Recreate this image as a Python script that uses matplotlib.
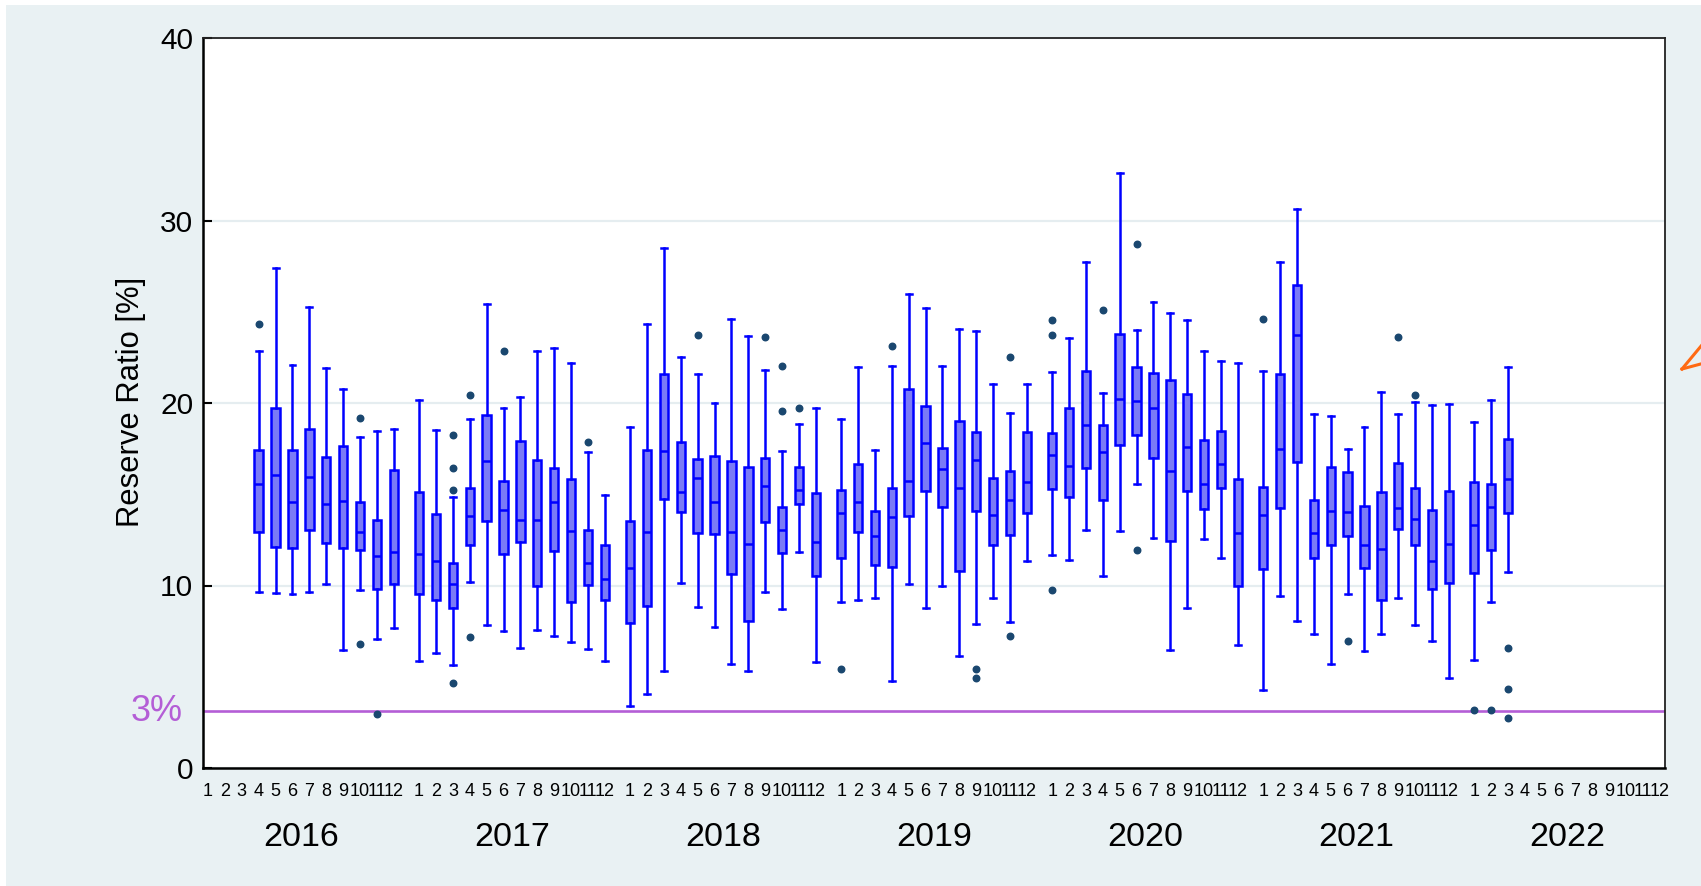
import matplotlib
matplotlib.use("Agg")
import matplotlib.pyplot as plt
from matplotlib.lines import Line2D
from matplotlib.patches import Rectangle

plt.rcParams['font.family'] = ['Liberation Sans', 'DejaVu Sans']

# --- data: monthly reserve ratio boxes ---
years = [2016, 2017, 2018, 2019, 2020, 2021, 2022]
month_labels = ['1', '2', '3', '4', '5', '6', '7', '8', '9', '10', '11', '12']

periods = [
    "2016-04", "2016-05", "2016-06", "2016-07", "2016-08", "2016-09", "2016-10", "2016-11", "2016-12",
    "2017-01", "2017-02", "2017-03", "2017-04", "2017-05", "2017-06", "2017-07", "2017-08", "2017-09", "2017-10", "2017-11", "2017-12",
    "2018-01", "2018-02", "2018-03", "2018-04", "2018-05", "2018-06", "2018-07", "2018-08", "2018-09", "2018-10", "2018-11", "2018-12",
    "2019-01", "2019-02", "2019-03", "2019-04", "2019-05", "2019-06", "2019-07", "2019-08", "2019-09", "2019-10", "2019-11", "2019-12",
    "2020-01", "2020-02", "2020-03", "2020-04", "2020-05", "2020-06", "2020-07", "2020-08", "2020-09", "2020-10", "2020-11", "2020-12",
    "2021-01", "2021-02", "2021-03", "2021-04", "2021-05", "2021-06", "2021-07", "2021-08", "2021-09", "2021-10", "2021-11", "2021-12",
    "2022-01", "2022-02", "2022-03",
]

whis_hi = [
    22.85, 27.4, 22.1, 25.25, 21.9, 20.75, 18.15, 18.45, 18.6,
    20.15, 18.5, 14.85, 19.1, 25.4, 19.7, 20.35, 22.85, 23.0, 22.2, 17.3, 14.95,
    18.7, 24.35, 28.5, 22.5, 21.6, 20.0, 24.6, 23.65, 21.8, 17.35, 18.85, 19.75,
    19.15, 21.95, 17.4, 22.05, 26.0, 25.2, 22.05, 24.05, 23.95, 21.05, 19.45, 21.05,
    21.7, 23.55, 27.75, 20.55, 32.6, 24.0, 25.55, 24.95, 24.55, 22.85, 22.3, 22.2,
    21.75, 27.75, 30.65, 19.4, 19.3, 17.5, 18.7, 20.6, 19.4, 20.05, 19.9, 19.95,
    18.95, 20.15, 22.0,
]
q3 = [
    17.45, 19.75, 17.45, 18.55, 17.05, 17.65, 14.55, 13.6, 16.35,
    15.15, 13.9, 11.25, 15.35, 19.35, 15.7, 17.9, 16.85, 16.45, 15.85, 13.05, 12.2,
    13.55, 17.4, 21.6, 17.85, 16.95, 17.1, 16.8, 16.5, 17.0, 14.3, 16.5, 15.05,
    15.25, 16.65, 14.1, 15.35, 20.75, 19.85, 17.55, 19.0, 18.4, 15.9, 16.25, 18.4,
    18.35, 19.7, 21.75, 18.8, 23.8, 21.95, 21.65, 21.25, 20.5, 17.95, 18.45, 15.85,
    15.4, 21.6, 26.45, 14.7, 16.5, 16.2, 14.35, 15.1, 16.7, 15.35, 14.15, 15.2,
    15.65, 15.55, 18.05,
]
med = [
    15.55, 16.05, 14.55, 15.95, 14.45, 14.65, 12.95, 11.6, 11.85,
    11.7, 11.35, 10.1, 13.8, 16.8, 14.15, 13.6, 13.6, 14.55, 13.0, 11.25, 10.35,
    10.95, 12.95, 17.35, 15.15, 15.9, 14.6, 12.95, 12.3, 15.45, 13.05, 15.25, 12.4,
    13.95, 14.55, 12.7, 13.75, 15.7, 17.8, 16.4, 15.35, 16.85, 13.85, 14.7, 15.65,
    17.15, 16.55, 18.8, 17.3, 20.2, 20.1, 19.7, 16.25, 17.6, 15.55, 16.65, 12.85,
    13.85, 17.5, 23.75, 12.85, 14.1, 14.05, 12.2, 12.0, 14.25, 13.65, 11.35, 12.3,
    13.3, 14.3, 15.85,
]
q1 = [
    12.95, 12.1, 12.05, 13.05, 12.35, 12.05, 11.95, 9.8, 10.1,
    9.55, 9.2, 8.75, 12.2, 13.55, 11.75, 12.4, 9.95, 11.9, 9.1, 10.05, 9.2,
    7.95, 8.85, 14.75, 14.05, 12.9, 12.8, 10.65, 8.05, 13.5, 11.8, 14.45, 10.5,
    11.5, 12.95, 11.1, 11.0, 13.8, 15.2, 14.3, 10.8, 14.1, 12.2, 12.75, 14.0,
    15.3, 14.85, 16.45, 14.7, 17.7, 18.25, 17.0, 12.45, 15.2, 14.2, 15.35, 10.0,
    10.9, 14.25, 16.75, 11.5, 12.2, 12.7, 10.95, 9.2, 13.1, 12.2, 9.8, 10.15,
    10.7, 11.95, 13.95,
]
whis_lo = [
    9.65, 9.6, 9.55, 9.65, 10.1, 6.45, 9.75, 7.05, 7.65,
    5.85, 6.3, 5.65, 10.2, 7.85, 7.5, 6.6, 7.55, 7.25, 6.9, 6.5, 5.85,
    3.4, 4.05, 5.3, 10.15, 8.8, 7.75, 5.7, 5.3, 9.65, 8.7, 11.85, 5.8,
    9.1, 9.2, 9.3, 4.75, 10.1, 8.75, 10.0, 6.15, 7.9, 9.3, 8.0, 11.35,
    11.65, 11.4, 13.05, 10.5, 13.0, 15.55, 12.6, 6.45, 8.75, 12.55, 11.5, 6.75,
    4.3, 9.45, 8.05, 7.35, 5.7, 9.55, 6.4, 7.35, 9.3, 7.85, 6.95, 4.95,
    5.9, 9.1, 10.75,
]
outliers = {
    "2016-04": [24.35], "2016-10": [19.2, 6.8], "2016-11": [2.95],
    "2017-03": [18.25, 16.45, 15.25, 4.65], "2017-04": [20.45, 7.2], "2017-06": [22.85], "2017-11": [17.85],
    "2018-05": [23.75], "2018-09": [23.6], "2018-10": [22.05, 19.55], "2018-11": [19.75],
    "2019-01": [5.45], "2019-04": [23.15], "2019-09": [5.45, 4.95], "2019-11": [22.5, 7.25],
    "2020-01": [24.55, 23.7, 9.75], "2020-04": [25.1], "2020-06": [28.7, 11.95],
    "2021-01": [24.6], "2021-06": [6.95], "2021-09": [23.6], "2021-10": [20.45],
    "2022-01": [3.2], "2022-02": [3.2], "2022-03": [6.6, 4.35, 2.75],
}
threshold = 3.1

# --- layout ---
year_step = 12.5  # one year group = 12 slots + gap


def slot(year, month):
    return (year - years[0]) * year_step + (month - 1)


fig = plt.figure(figsize=(17.01, 8.86), dpi=100, facecolor='white')
fig.add_artist(Rectangle((6 / 1701, 0), 1, 1 - 5 / 886, transform=fig.transFigure,
                         facecolor='#e9f1f3', edgecolor='none', zorder=0))

ax = fig.add_axes([203 / 1701, 118 / 886, 1462 / 1701, 730 / 886])
ax.set_facecolor('white')

stats = []
positions = []
for i, p in enumerate(periods):
    y, m = int(p[:4]), int(p[5:])
    positions.append(slot(y, m))
    stats.append(dict(whislo=whis_lo[i], q1=q1[i], med=med[i], q3=q3[i],
                      whishi=whis_hi[i], fliers=outliers.get(p, [])))

blue = '#0000ff'
ax.bxp(stats, positions=positions, widths=0.5, capwidths=0.35, patch_artist=True,
       manage_ticks=False, showfliers=True,
       boxprops=dict(facecolor='#7b7bf6', edgecolor=blue, linewidth=1.8),
       medianprops=dict(color=blue, linewidth=1.8),
       whiskerprops=dict(color=blue, linewidth=1.8),
       capprops=dict(color=blue, linewidth=1.8),
       flierprops=dict(marker='o', markerfacecolor='#1a476f', markeredgecolor='#1a476f',
                       markersize=4.7, linestyle='none'))

# 3% reference line
ax.axhline(threshold, color='#b45ed6', linewidth=1.9, zorder=1.5)
ax.text(-0.0137, threshold, '3%', transform=ax.get_yaxis_transform(), ha='right', va='center',
        fontsize=26, color='#b45ed6', clip_on=False)

ax.set_ylim(0, 40)
ax.set_xlim(-0.3, slot(years[-1], 12) + 0.3)

ax.set_yticks([0, 10, 20, 30, 40])
ax.tick_params(axis='y', direction='in', length=6.5, width=1.5, labelsize=21.5, pad=7)
ax.yaxis.grid(True, color='#e5edf0', linewidth=1.6)
ax.set_axisbelow(True)

ticks = [slot(y, m) for y in years for m in range(1, 13)]
ax.set_xticks(ticks)
ax.set_xticklabels(month_labels * len(years), fontsize=13)
ax.tick_params(axis='x', length=0, pad=11)

for y in years:
    ax.text(slot(y, 6.5), -0.095, str(y), transform=ax.get_xaxis_transform(),
            ha='center', va='center', fontsize=24.5)

for side in ['left', 'bottom']:
    ax.spines[side].set_linewidth(1.8)
    ax.spines[side].set_color('black')
for side in ['top', 'right']:
    ax.spines[side].set_linewidth(1.3)
    ax.spines[side].set_color('#222222')

fig.text(130.6 / 1701, 1 - 401.5 / 886, 'Reserve Ratio [%]', rotation=90,
         ha='center', va='center', fontsize=22.3)

# orange arrowhead peeking in at the right edge
tip = (1682 / 1701, 1 - 369 / 886)
fig.add_artist(Line2D([tip[0], 1.002], [tip[1], 1 - 342 / 886], transform=fig.transFigure,
                      color='#ff6a13', linewidth=2.2))
fig.add_artist(Line2D([tip[0], 1.002], [tip[1], 1 - 363 / 886], transform=fig.transFigure,
                      color='#ff6a13', linewidth=2.2))

fig.savefig('out.png', dpi=100, facecolor=fig.get_facecolor())
